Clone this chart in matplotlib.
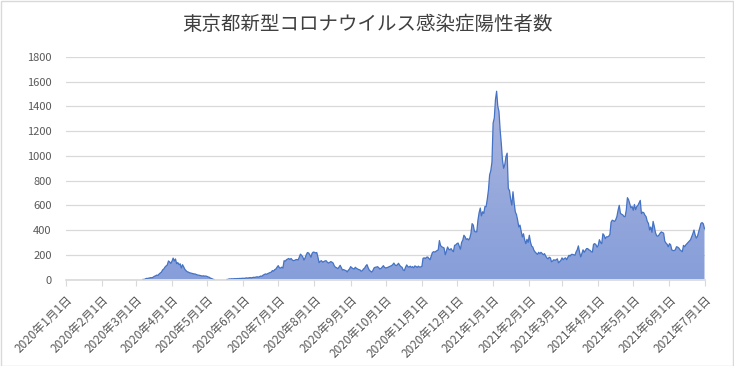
import numpy as np
import pandas as pd
import matplotlib
matplotlib.use("Agg")
import matplotlib.pyplot as plt
import matplotlib.dates as mdates
from matplotlib.patches import PathPatch, Rectangle

plt.rcParams['font.family'] = ['Noto Sans CJK JP', 'DejaVu Sans']

title = "東京都新型コロナウイルス感染症陽性者数"

# daily positives (month by month)
jan20 = [0, 0, 0, 0, 0, 0, 0, 0]  # from Jan 24
feb20 = [0, 0, 0, 0, 0, 0, 0, 0, 0, 0, 0, 0, 0, 0, 0, 0, 0, 0, 0, 0, 0, 0, 0, 0, 0, 0, 0, 0, 0]
mar20 = [0, 0, 0, 0, 0, 0, 0, 1, 3, 9, 8, 11, 13, 15, 14, 20, 26, 30, 36, 33, 45, 52, 60, 78, 85, 100, 110, 118, 150, 142, 130]
apr20 = [148, 173, 150, 166, 128, 137, 120, 127, 93, 120, 103, 83, 72, 63, 60, 55, 52, 50, 47, 45, 44, 40, 36, 35, 33, 30, 28, 30, 27, 28]
may20 = [25, 20, 18, 10, 8, 2, 0, 0, 0, 0, 0, 0, 0, 0, 0, 0, 0, 0, 1, 5, 4, 6, 5, 6, 7, 6, 8, 7, 9, 8, 10]
jun20 = [10, 9, 12, 13, 11, 14, 15, 13, 16, 18, 17, 20, 22, 19, 24, 28, 26, 35, 40, 45, 42, 48, 52, 56, 60, 72, 68, 80, 85, 100]
jul20 = [112, 95, 92, 100, 93, 152, 148, 160, 165, 170, 162, 170, 158, 152, 155, 160, 162, 158, 180, 205, 195, 183, 157, 175, 200, 218, 215, 200, 180, 212, 222]
aug20 = [220, 215, 218, 180, 136, 148, 152, 140, 145, 150, 152, 140, 133, 138, 145, 140, 133, 110, 99, 95, 88, 100, 115, 95, 77, 80, 75, 72, 61, 75, 85]
sep20 = [104, 95, 88, 85, 99, 90, 85, 80, 78, 67, 72, 85, 93, 110, 120, 95, 75, 68, 60, 72, 93, 99, 100, 104, 96, 85, 90, 100, 112, 98]
oct20 = [93, 96, 99, 104, 108, 112, 120, 133, 118, 112, 120, 131, 115, 104, 99, 77, 72, 99, 118, 104, 100, 108, 98, 104, 95, 110, 105, 98, 108, 100, 102]
nov20 = [106, 172, 175, 170, 180, 182, 170, 160, 190, 218, 225, 222, 228, 235, 240, 315, 275, 265, 260, 255, 200, 230, 263, 245, 240, 250, 235, 225, 276, 280]
dec20 = [290, 295, 270, 245, 300, 318, 358, 345, 324, 330, 320, 335, 373, 452, 440, 390, 385, 386, 480, 540, 578, 515, 548, 535, 590, 589, 650, 724, 846, 880, 950]
jan21 = [1266, 1306, 1455, 1523, 1400, 1360, 1211, 1100, 967, 900, 930, 994, 1022, 737, 720, 650, 601, 710, 620, 547, 525, 480, 425, 440, 390, 344, 370, 320, 290, 325, 300]
feb21 = [358, 302, 270, 262, 235, 222, 213, 203, 220, 209, 220, 210, 200, 209, 190, 175, 167, 180, 175, 143, 150, 160, 155, 160, 167, 135, 145, 155]
mar21 = [175, 160, 170, 175, 160, 180, 196, 190, 203, 203, 200, 196, 222, 240, 272, 222, 183, 210, 240, 220, 235, 250, 250, 240, 236, 225, 222, 285, 290, 282, 262]
apr21 = [276, 322, 300, 290, 370, 358, 330, 345, 345, 350, 365, 463, 480, 475, 470, 484, 510, 560, 600, 535, 528, 523, 510, 508, 560, 662, 645, 612, 580, 590]
may21 = [560, 607, 565, 590, 600, 621, 640, 533, 545, 540, 520, 508, 470, 454, 400, 425, 382, 470, 430, 380, 354, 350, 360, 375, 385, 380, 375, 310, 295, 285, 265]
jun21 = [290, 280, 240, 234, 234, 240, 265, 262, 255, 240, 232, 225, 276, 265, 280, 290, 300, 310, 321, 345, 370, 400, 360, 335, 350, 385, 420, 455, 460, 450]
jul21 = [410]

months = [("2020-01-24", jan20), ("2020-02-01", feb20), ("2020-03-01", mar20), ("2020-04-01", apr20),
          ("2020-05-01", may20), ("2020-06-01", jun20), ("2020-07-01", jul20), ("2020-08-01", aug20),
          ("2020-09-01", sep20), ("2020-10-01", oct20), ("2020-11-01", nov20), ("2020-12-01", dec20),
          ("2021-01-01", jan21), ("2021-02-01", feb21), ("2021-03-01", mar21), ("2021-04-01", apr21),
          ("2021-05-01", may21), ("2021-06-01", jun21), ("2021-07-01", jul21)]

dates = []
values = []
for start, vals in months:
    dates.extend(pd.date_range(start, periods=len(vals), freq="D"))
    values.extend(vals)
dates = pd.DatetimeIndex(dates)
values = np.array(values, dtype=float)

tick_dates = pd.date_range("2020-01-01", "2021-07-01", freq="MS")
tick_labels = [f"{d.year}年{d.month}月{d.day}日" for d in tick_dates]
y_ticks = [0, 200, 400, 600, 800, 1000, 1200, 1400, 1600, 1800]

W, H = 734, 366
fig = plt.figure(figsize=(W / 100, H / 100), dpi=100)
fig.patch.set_facecolor("white")
fig.add_artist(Rectangle((0.5 / W, 0.5 / H), 1 - 1.5 / W, 1 - 1.5 / H, transform=fig.transFigure,
                         fill=False, edgecolor="#d9d9d9", linewidth=1.0))

ax = fig.add_axes([65.7 / W, 1 - 279.5 / H, (704.5 - 65.7) / W, (279.5 - 57.0) / H])
x = mdates.date2num(dates)
xmin = mdates.date2num(pd.Timestamp("2020-01-01"))
xmax = mdates.date2num(pd.Timestamp("2021-07-01"))

# gradient fill clipped to the area
fill = ax.fill_between(x, values, 0, facecolor="none", edgecolor="none")
path = fill.get_paths()[0]
patch = PathPatch(path, transform=ax.transData, facecolor="none", edgecolor="none")
ax.add_patch(patch)
top_c = np.array([172, 182, 222]) / 255.0
bot_c = np.array([134, 158, 218]) / 255.0
n = 256
t = np.linspace(0, 1, n)[:, None]
grad = (bot_c[None, :] * (1 - t) + top_c[None, :] * t)[:, None, :]
im = ax.imshow(grad, extent=[xmin, xmax, 0, 1550], origin="lower", aspect="auto", zorder=2,
               interpolation="bilinear")
im.set_clip_path(patch)

# outline: hide segments lying flat on the zero baseline (covered by the axis in the original)
prev_zero = np.r_[True, values[:-1] == 0]
next_zero = np.r_[values[1:] == 0, True]
flat = (values == 0) & prev_zero & next_zero
line_vals = np.ma.masked_where(flat, values)
ax.plot(x, line_vals, color="#4472c4", linewidth=0.9, zorder=3)

ax.set_xlim(xmin, xmax)
ax.set_ylim(0, 1800)
ax.set_yticks(y_ticks)
ax.set_yticklabels([str(v) for v in y_ticks])
ax.yaxis.grid(True, color="#d9d9d9", linewidth=0.9)
ax.set_axisbelow(True)
ax.tick_params(axis="y", length=0, pad=10, labelsize=8, labelcolor="#595959")

ax.set_xticks(mdates.date2num(tick_dates))
ax.set_xticklabels(tick_labels, rotation=45, ha="right", rotation_mode="anchor")
ax.tick_params(axis="x", length=4, width=0.8, color="#d9d9d9", pad=6, labelsize=8.5, labelcolor="#595959")

for s in ["top", "right", "left"]:
    ax.spines[s].set_visible(False)
ax.spines["bottom"].set_color("#d9d9d9")
ax.spines["bottom"].set_linewidth(1.2)
ax.spines["bottom"].set_zorder(4)

fig.text(0.5, 1 - 25 / H, title, ha="center", va="center", fontsize=14, color="#404040")

fig.savefig("out.png", dpi=100)
